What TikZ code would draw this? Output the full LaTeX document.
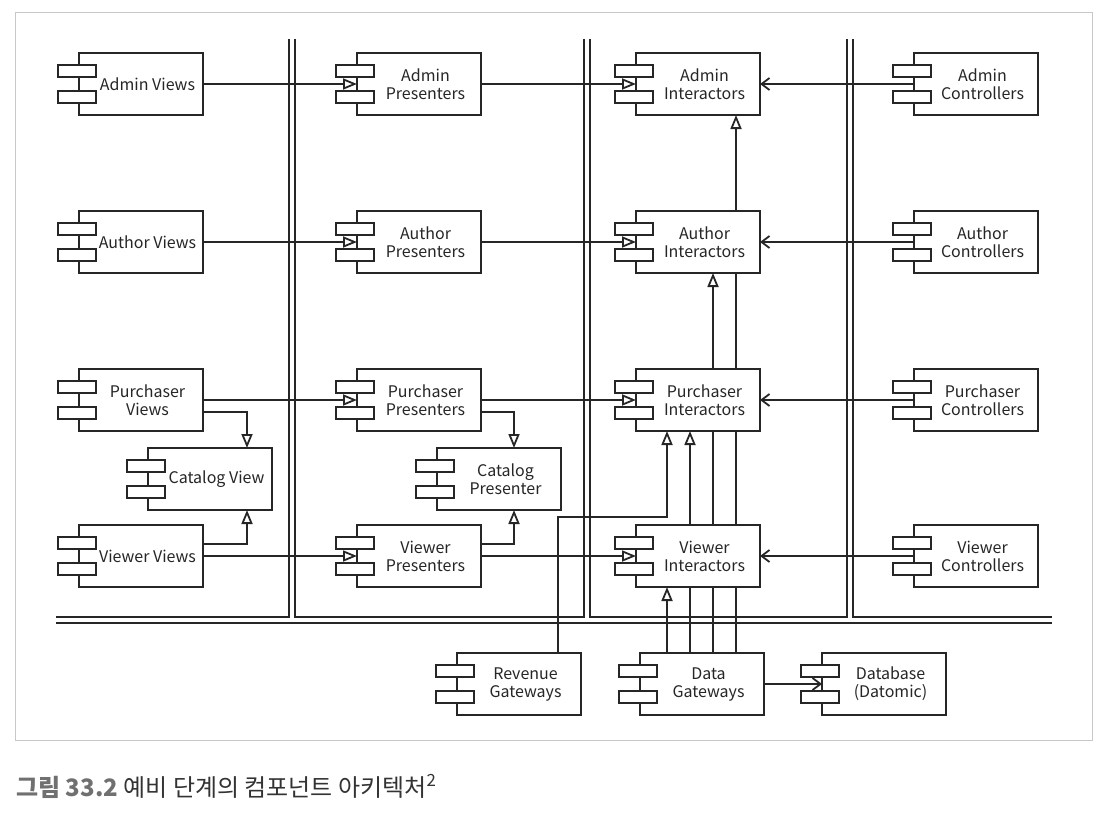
\documentclass[tikz,border=0pt]{standalone}
\usepackage{fontspec}
\setmainfont{Noto Sans CJK KR}
\usetikzlibrary{arrows.meta,calc}
\pgfdeclarelayer{bg}
\pgfsetlayers{bg,main}
\definecolor{ink}{HTML}{262626}
\definecolor{framec}{HTML}{C8C8C8}
\definecolor{capg}{HTML}{707070}
\definecolor{capt}{HTML}{333333}
\newcommand\comp[4]{%
  \node[box] (#1) at ({#2+62},#3) {};
  \node[tab] (#1-a) at ({#2-2},{#3-13}) {};
  \node[tab] (#1-b) at ({#2-2},{#3+13}) {};
  \node[lbl] (#1-t) at ({#2+68.5},#3) {#4};
}
\begin{document}
\begin{tikzpicture}[x=1pt,y=-1pt,
  ln/.style={draw=ink, line width=1.8pt},
  box/.style={rectangle, draw=ink, fill=white, line width=1.8pt, minimum width=124pt, minimum height=62pt, inner sep=0pt, outer sep=0pt},
  tab/.style={rectangle, draw=ink, fill=white, line width=1.8pt, minimum width=38pt, minimum height=12pt, inner sep=0pt},
  lbl/.style={font=\fontsize{16}{18}\selectfont, align=center, text=ink, inner sep=0pt},
  tri/.style={ln, -{Triangle[open,length=14pt,width=11pt]}},
  barb/.style={ln, -{Straight Barb[length=8pt,width=12pt]}}]
\useasboundingbox (0,0) rectangle (1102,824);
\draw[draw=framec, line width=1pt] (15,13) rectangle (1092,740);
% separators
\draw[ln] (289,39) -- (289,617) -- (56,617);
\draw[ln] (295,39) -- (295,617) -- (584,617) -- (584,39);
\draw[ln] (590,39) -- (590,617) -- (847,617) -- (847,39);
\draw[ln] (853,39) -- (853,617) -- (1052,617);
\draw[ln] (56,623) -- (1052,623);
% components
\comp{av}{79}{84}{Admin Views}
\comp{ap}{357}{84}{Admin\\Presenters}
\comp{ai}{636}{84}{Admin\\Interactors}
\comp{ac}{914}{84}{Admin\\Controllers}
\comp{uv}{79}{242}{Author Views}
\comp{up}{357}{242}{Author\\Presenters}
\comp{ui}{636}{242}{Author\\Interactors}
\comp{uc}{914}{242}{Author\\Controllers}
\comp{pv}{79}{400}{Purchaser\\Views}
\comp{pp}{357}{400}{Purchaser\\Presenters}
\comp{pi}{636}{400}{Purchaser\\Interactors}
\comp{pc}{914}{400}{Purchaser\\Controllers}
\comp{cv}{148}{479}{Catalog View}
\comp{cp}{437}{479}{Catalog\\Presenter}
\comp{vv}{79}{556}{Viewer Views}
\comp{vp}{357}{556}{Viewer\\Presenters}
\comp{vi}{636}{556}{Viewer\\Interactors}
\comp{vc}{914}{556}{Viewer\\Controllers}
\comp{rg}{457}{684}{Revenue\\Gateways}
\comp{dg}{640}{684}{Data\\Gateways}
\comp{db}{822}{684}{Database\\(Datomic)}
\coordinate (x1) at (667,0);
\coordinate (x2) at (690,0);
\coordinate (x3) at (713,0);
\coordinate (x4) at (736,0);
\coordinate (xr) at (558,0);
\coordinate (yr) at (0,517);
\begin{pgfonlayer}{bg}
\draw[tri] (av.east) -- (ap.west);
\draw[tri] (uv.east) -- (up.west);
\draw[tri] (pv.east) -- (pp.west);
\draw[tri] (vv.east) -- (vp.west);
\draw[tri] (ap.east) -- (ai.west);
\draw[tri] (up.east) -- (ui.west);
\draw[tri] (pp.east) -- (pi.west);
\draw[tri] (vp.east) -- (vi.west);
\draw[barb] (ac.west) -- (ai.east);
\draw[barb] (uc.west) -- (ui.east);
\draw[barb] (pc.west) -- (pi.east);
\draw[barb] (vc.west) -- (vi.east);
\draw[tri] ($(pv.east)+(0,12)$) -| ($(cv.north west)+(99,0)$);
\draw[tri] ($(vv.east)+(0,-12)$) -| ($(cv.south west)+(99,0)$);
\draw[tri] ($(pp.east)+(0,12)$) -| ($(cp.north west)+(77,0)$);
\draw[tri] ($(vp.east)+(0,-12)$) -| ($(cp.south west)+(77,0)$);
\draw[tri] (dg.north -| x1) -- (vi.south -| x1);
\draw[tri] (dg.north -| x2) -- (pi.south -| x2);
\draw[tri] (dg.north -| x3) -- (ui.south -| x3);
\draw[tri] (dg.north -| x4) -- (ai.south -| x4);
\draw[tri] (rg.north -| xr) -- (xr |- yr) -| (pi.south -| x1);
\draw[barb] (dg.east) -- (db.west);
\end{pgfonlayer}
\node[anchor=base west, inner sep=0pt] (cap) at (16,796) {\fontsize{24}{27}\selectfont\color{capg}\textbf{그림 33.2} \color{capt}예비 단계의 컴포넌트 아키텍처\textsuperscript{2}};
\end{tikzpicture}
\end{document}
